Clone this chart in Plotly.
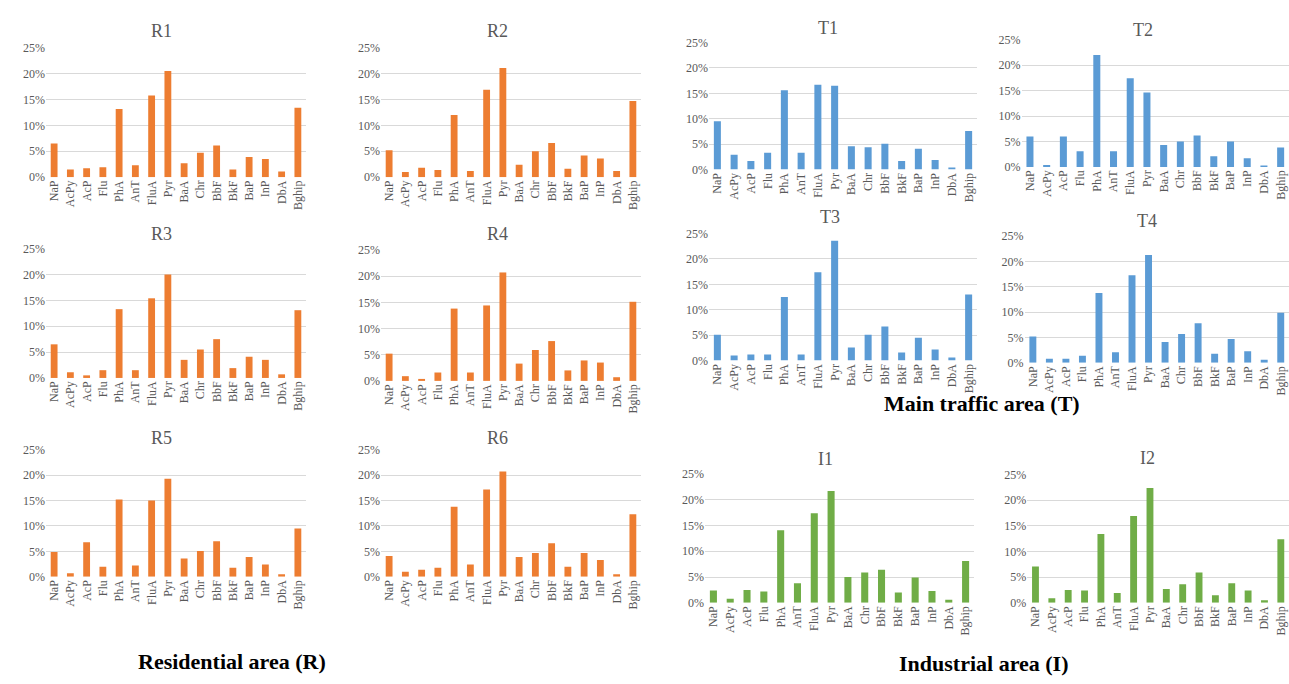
import plotly.graph_objects as go

categories = ["NaP", "AcPy", "AcP", "Flu", "PhA", "AnT", "FluA", "Pyr", "BaA", "Chr", "BbF", "BkF", "BaP", "InP", "DbA", "Bghip"]

R1 = [6.5, 1.5, 1.7, 1.9, 13.2, 2.3, 15.8, 20.5, 2.7, 4.7, 6.1, 1.5, 3.9, 3.5, 1.1, 13.4]
R2 = [5.2, 1.0, 1.8, 1.4, 12.0, 1.2, 16.9, 21.1, 2.4, 5.0, 6.6, 1.6, 4.2, 3.6, 1.2, 14.7]
R3 = [6.5, 1.1, 0.5, 1.5, 13.3, 1.5, 15.4, 20.0, 3.5, 5.5, 7.5, 1.9, 4.1, 3.5, 0.7, 13.1]
R4 = [5.2, 0.9, 0.3, 1.6, 13.8, 1.6, 14.4, 20.7, 3.3, 5.9, 7.6, 2.0, 3.9, 3.5, 0.7, 15.1]
R5 = [4.9, 0.7, 6.8, 2.0, 15.2, 2.2, 15.0, 19.3, 3.6, 5.1, 7.0, 1.8, 3.9, 2.4, 0.5, 9.5]
R6 = [4.1, 1.0, 1.4, 1.8, 13.8, 2.4, 17.2, 20.7, 3.9, 4.7, 6.6, 2.0, 4.7, 3.3, 0.5, 12.3]
T1 = [9.5, 2.9, 1.7, 3.3, 15.6, 3.3, 16.7, 16.5, 4.6, 4.4, 5.1, 1.7, 4.1, 1.9, 0.4, 7.6]
T2 = [6.0, 0.4, 6.0, 3.1, 22.0, 3.1, 17.4, 14.6, 4.3, 5.0, 6.2, 2.1, 5.0, 1.7, 0.3, 3.8]
T3 = [5.1, 1.0, 1.2, 1.2, 12.5, 1.2, 17.4, 23.6, 2.6, 5.1, 6.7, 1.6, 4.5, 2.2, 0.6, 13.0]
T4 = [5.2, 0.8, 0.8, 1.4, 13.8, 2.1, 17.3, 21.3, 4.1, 5.7, 7.8, 1.8, 4.7, 2.3, 0.6, 9.9]
I1 = [2.4, 0.8, 2.5, 2.2, 14.1, 3.8, 17.4, 21.7, 5.0, 5.9, 6.4, 2.0, 4.9, 2.3, 0.6, 8.1]
I2 = [7.1, 0.9, 2.5, 2.4, 13.4, 1.9, 16.9, 22.4, 2.7, 3.6, 5.9, 1.5, 3.8, 2.4, 0.5, 12.4]

panel_names = ["R1", "R2", "R3", "R4", "R5", "R6", "T1", "T2", "T3", "T4", "I1", "I2"]
panel_values = [R1, R2, R3, R4, R5, R6, T1, T2, T3, T4, I1, I2]

y_ticks = [0, 5, 10, 15, 20, 25]
y_tick_labels = ["0%", "5%", "10%", "15%", "20%", "25%"]

group_labels = ["Residential area (R)", "Main traffic area (T)", "Industrial area (I)"]

W, H = 1289, 684
ORANGE = "#ED7D31"
BLUE = "#5B9BD5"
GREEN = "#70AD47"
colors = [ORANGE] * 6 + [BLUE] * 4 + [GREEN] * 2

# (left px, right px, top px (25%), bottom px (0%), title x, title y)
geom = [
    (46, 306, 41.7, 173.7, 161, 24),
    (381, 641, 41.7, 173.7, 497, 24),
    (46, 306, 246.7, 378.7, 161, 232),
    (381, 641, 248, 381.7, 497, 232),
    (46, 306, 452, 581.7, 161, 440),
    (381, 641, 452, 581.7, 497, 440),
    (709, 977, 36.3, 166, 828, 21),
    (1021.6, 1289, 33.3, 163.3, 1143, 23),
    (709, 977, 231.3, 361, 830, 214),
    (1024.6, 1289, 234, 363.3, 1147, 218),
    (705, 974, 476.7, 608.3, 825, 461),
    (1027.3, 1289, 477.3, 608.3, 1147, 460),
]

FONT = "Liberation Serif"
GRAY = "#595959"

fig = go.Figure()
annotations = []
for i, (name, vals) in enumerate(zip(panel_names, panel_values)):
    n = i + 1
    left, right, top, bottom, tx, ty = geom[i]
    fig.add_trace(go.Bar(
        x=categories, y=vals, marker_color=colors[i], marker_line_width=0,
        xaxis=f"x{n}", yaxis=f"y{n}", showlegend=False, width=0.42,
    ))
    xa = dict(
        domain=[left / W, right / W], anchor=f"y{n}",
        range=[-0.5, 15.5], type="category",
        tickangle=-90, showgrid=False, showline=False, zeroline=False,
        ticks="", tickfont=dict(family=FONT, size=12, color=GRAY),
    )
    ya = dict(
        domain=[1 - bottom / H, 1 - top / H], anchor=f"x{n}",
        range=[0, 25], tickvals=y_ticks, ticktext=y_tick_labels,
        showgrid=True, gridcolor="#D9D9D9", gridwidth=1,
        zeroline=False, showline=False, ticks="",
        tickfont=dict(family=FONT, size=12, color=GRAY),
    )
    key = "" if n == 1 else str(n)
    fig.layout["xaxis" + key] = xa
    fig.layout["yaxis" + key] = ya
    annotations.append(dict(
        text=name, x=tx / W, y=1 - ty / H, xref="paper", yref="paper",
        showarrow=False, font=dict(family=FONT, size=18, color=GRAY),
        xanchor="center", yanchor="middle",
    ))

for text, (gx, gy) in zip(group_labels, [(232, 668), (982, 405), (984, 670)]):
    annotations.append(dict(
        text=f"<b>{text}</b>", x=gx / W, y=1 - gy / H, xref="paper", yref="paper",
        showarrow=False, font=dict(family=FONT, size=22, color="#000000"),
        xanchor="center", yanchor="middle",
    ))

fig.update_layout(
    width=W, height=H, margin=dict(l=0, r=0, t=0, b=0),
    paper_bgcolor="white", plot_bgcolor="white",
    annotations=annotations, bargap=0.55,
)

fig.write_html(
    "out.html",
    config={"displayModeBar": False},
    post_script="document.body.style.margin='0';document.body.style.overflow='hidden';",
)
